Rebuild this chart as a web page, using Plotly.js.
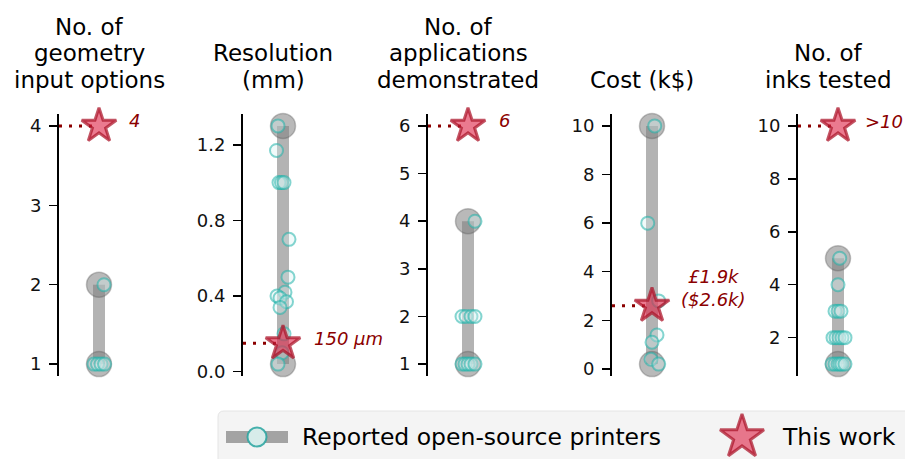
<!DOCTYPE html>
<html><head><meta charset="utf-8">
<script src="https://cdn.plot.ly/plotly-3.0.1.min.js"></script>
<style>html,body{margin:0;padding:0;background:#fff}</style>
</head><body>
<div id="chart" style="width:905px;height:459px"></div>
<script>
// ---------------- DATA ----------------
const panelTitles = [
  ["No. of", "geometry", "input options"],
  ["Resolution", "(mm)"],
  ["No. of", "applications", "demonstrated"],
  ["Cost (k$)"],
  ["No. of", "inks tested"]
];
const geometryInputs = [1, 1, 1, 1, 2];
const resolutionMm   = [1.3, 1.17, 1.0, 1.0, 1.0, 0.7, 0.5, 0.42, 0.4, 0.39, 0.37, 0.34, 0.2, 0.1, 0.04];
const applications   = [4, 2, 2, 2, 2, 1, 1, 1, 1, 1];
const costK          = [10, 6, 2.8, 1.4, 1.1, 0.4, 0.2];
const inksTested     = [5, 4, 3, 3, 3, 2, 2, 2, 2, 2, 1, 1, 1, 1, 1, 1];
const thisWork       = [4, 0.15, 6, 2.6, 10];
const thisWorkLabels = ["4", "150 μm", "6", "£1.9k<br>($2.6k)", ">10"];
const tickVals = [[1, 2, 3, 4], [0, 0.4, 0.8, 1.2], [1, 2, 3, 4, 5, 6], [0, 2, 4, 6, 8, 10], [2, 4, 6, 8, 10]];
const tickText = [["1", "2", "3", "4"], ["0.0", "0.4", "0.8", "1.2"], ["1", "2", "3", "4", "5", "6"],
                  ["0", "2", "4", "6", "8", "10"], ["2", "4", "6", "8", "10"]];
const legendLabels = ["Reported open-source printers", "This work"];

// ---------------- STYLE / LAYOUT ----------------
const W = 905, H = 459;
const axisLeftPx = [59, 243, 428, 612, 798];
const plotTop = 114, plotBottom = 376;
const panelWidthPx = 60, markX = 40;
// horizontal strip jitter (px) for the printer markers
const jitterPx = [
  [-5, -1.5, 2, 5.5, 5],
  [-5, -6.5, -4, -1.5, 1, 6, 5, 2, -6, -3, 3.5, -3, 1, -1, -5],
  [7, -6, -2, 3, 7, -6, -3, 0, 3, 7],
  [2.7, -4.3, 6.7, 5, 0, -1, 6.7],
  [1.7, 0, -3, 0, 3, -5, -2, 1, 4, 7, -6, -3, 0, 2, 4, 7]
];
const labelStyle = [
  {dx: 28, anchor: "left", yshift: 5},
  {dx: 29, anchor: "left", yshift: 5},
  {dx: 29, anchor: "left", yshift: 5},
  {dx: 61, anchor: "center", yshift: 18},
  {dx: 25, anchor: "left", yshift: 4}
];
const FONT = "DejaVu Sans, Liberation Sans, sans-serif";
const darkRed = "#8b0000";
const barColor = "rgba(128,128,128,0.6)";
const tealLine = "rgba(32,178,170,0.55)";
const tealFill = "rgba(215,242,240,0.35)";
const starFill = "rgba(222,40,75,0.62)";
const starLine = "rgba(170,20,40,0.72)";

const series = [geometryInputs, resolutionMm, applications, costK, inksTested];

const traces = [];
const layout = {
  width: W, height: H,
  margin: {l: 0, r: 0, t: 0, b: 0},
  paper_bgcolor: "#fff", plot_bgcolor: "rgba(0,0,0,0)",
  showlegend: false,
  font: {family: FONT, color: "#000"},
  annotations: [], shapes: []
};

series.forEach((vals, i) => {
  const n = i + 1;
  const xa = "x" + n, ya = "y" + n;
  const lo = Math.min(...vals), hi = Math.max(...vals);
  const allLo = Math.min(lo, thisWork[i]), allHi = Math.max(hi, thisWork[i]);
  const pad = (allHi - allLo) * 0.05;

  layout["xaxis" + n] = {
    domain: [axisLeftPx[i] / W, (axisLeftPx[i] + panelWidthPx) / W],
    range: [0, panelWidthPx], visible: false, fixedrange: true
  };
  layout["yaxis" + n] = {
    domain: [1 - plotBottom / H, 1 - plotTop / H],
    anchor: xa,
    range: [allLo - pad, allHi + pad],
    showline: true, linecolor: "#000", linewidth: 2,
    ticks: "outside", ticklen: 8, tickwidth: 1.5, tickcolor: "#000",
    tickvals: tickVals[i], ticktext: tickText[i],
    tickfont: {family: FONT, size: 18, color: "#111"},
    ticklabelstandoff: 4,
    showgrid: false, zeroline: false, fixedrange: true
  };

  // range bar
  traces.push({x: [markX, markX], y: [lo, hi], xaxis: xa, yaxis: ya, mode: "lines",
    line: {color: barColor, width: 12}, cliponaxis: false, hoverinfo: "skip"});
  // min / max circles
  traces.push({x: [markX, markX], y: [lo, hi], xaxis: xa, yaxis: ya, mode: "markers",
    marker: {size: 25, color: "rgba(128,128,128,0.55)", line: {color: "rgba(90,90,90,0.35)", width: 1.5}},
    cliponaxis: false, hoverinfo: "skip"});
  // individual printers
  traces.push({x: vals.map((v, k) => markX + jitterPx[i][k]), y: vals, xaxis: xa, yaxis: ya, mode: "markers",
    marker: {size: 13, color: tealFill, line: {color: tealLine, width: 2}},
    cliponaxis: false});
  // dotted guide
  traces.push({x: [0, markX], y: [thisWork[i], thisWork[i]], xaxis: xa, yaxis: ya, mode: "lines",
    line: {color: darkRed, width: 3, dash: "3px,7px"}, cliponaxis: false, hoverinfo: "skip"});
  // this work star
  traces.push({x: [markX], y: [thisWork[i]], xaxis: xa, yaxis: ya, mode: "markers",
    marker: {symbol: "star", size: 26, color: starFill, line: {color: starLine, width: 3}},
    cliponaxis: false});

  // label (x in paper units so it is not hidden outside the narrow x range)
  const ls = labelStyle[i];
  layout.annotations.push({xref: "paper", yref: ya, x: (axisLeftPx[i] + markX + ls.dx) / W, y: thisWork[i],
    text: thisWorkLabels[i], showarrow: false, xanchor: ls.anchor, yanchor: "middle", yshift: ls.yshift,
    font: {family: FONT, size: 18, color: darkRed, style: "italic"}});

  // title lines (bottom aligned)
  const lines = panelTitles[i];
  lines.forEach((t, k) => {
    const fromBottom = lines.length - 1 - k;
    const cy = 80 - fromBottom * 26.5;
    layout.annotations.push({xref: "paper", yref: "paper",
      x: (axisLeftPx[i] + panelWidthPx / 2) / W, y: 1 - cy / H,
      text: t, showarrow: false, xanchor: "center", yanchor: "middle",
      font: {family: FONT, size: 23, color: "#000"}});
  });
});

// ---------------- LEGEND (overlay axis in pixel units) ----------------
layout.xaxis6 = {domain: [0, 1], range: [0, W], visible: false, fixedrange: true};
layout.yaxis6 = {domain: [0, 1], range: [H, 0], visible: false, fixedrange: true, anchor: "x6"};
const bx0 = 218, by0 = 411, bx1 = 915, by1 = 470, r = 6;
layout.shapes.push({type: "path", xref: "x6", yref: "y6", layer: "below",
  path: `M${bx0 + r},${by0} L${bx1 - r},${by0} Q${bx1},${by0} ${bx1},${by0 + r} L${bx1},${by1 - r} Q${bx1},${by1} ${bx1 - r},${by1} L${bx0 + r},${by1} Q${bx0},${by1} ${bx0},${by1 - r} L${bx0},${by0 + r} Q${bx0},${by0} ${bx0 + r},${by0} Z`,
  fillcolor: "#f4f4f4", line: {color: "#e4e4e4", width: 1}});
const ly = 437;
traces.push({x: [226, 288], y: [ly, ly], xaxis: "x6", yaxis: "y6", mode: "lines",
  line: {color: "rgba(128,128,128,0.7)", width: 12}, cliponaxis: false, hoverinfo: "skip"});
traces.push({x: [257], y: [ly], xaxis: "x6", yaxis: "y6", mode: "markers",
  marker: {size: 19, color: "rgba(215,236,234,1)", line: {color: "rgba(40,165,160,0.85)", width: 2}},
  cliponaxis: false, hoverinfo: "skip"});
traces.push({x: [742], y: [ly], xaxis: "x6", yaxis: "y6", mode: "markers",
  marker: {symbol: "star", size: 33, color: starFill, line: {color: starLine, width: 3}},
  cliponaxis: false, hoverinfo: "skip"});
layout.annotations.push({xref: "x6", yref: "y6", x: 300, y: ly, text: legendLabels[0], showarrow: false,
  xanchor: "left", yanchor: "middle", font: {family: FONT, size: 23.5, color: "#000"}});
layout.annotations.push({xref: "x6", yref: "y6", x: 780, y: ly, text: legendLabels[1], showarrow: false,
  xanchor: "left", yanchor: "middle", font: {family: FONT, size: 23.5, color: "#000"}});

Plotly.newPlot("chart", traces, layout, {staticPlot: true, displayModeBar: false});
</script>
</body></html>
